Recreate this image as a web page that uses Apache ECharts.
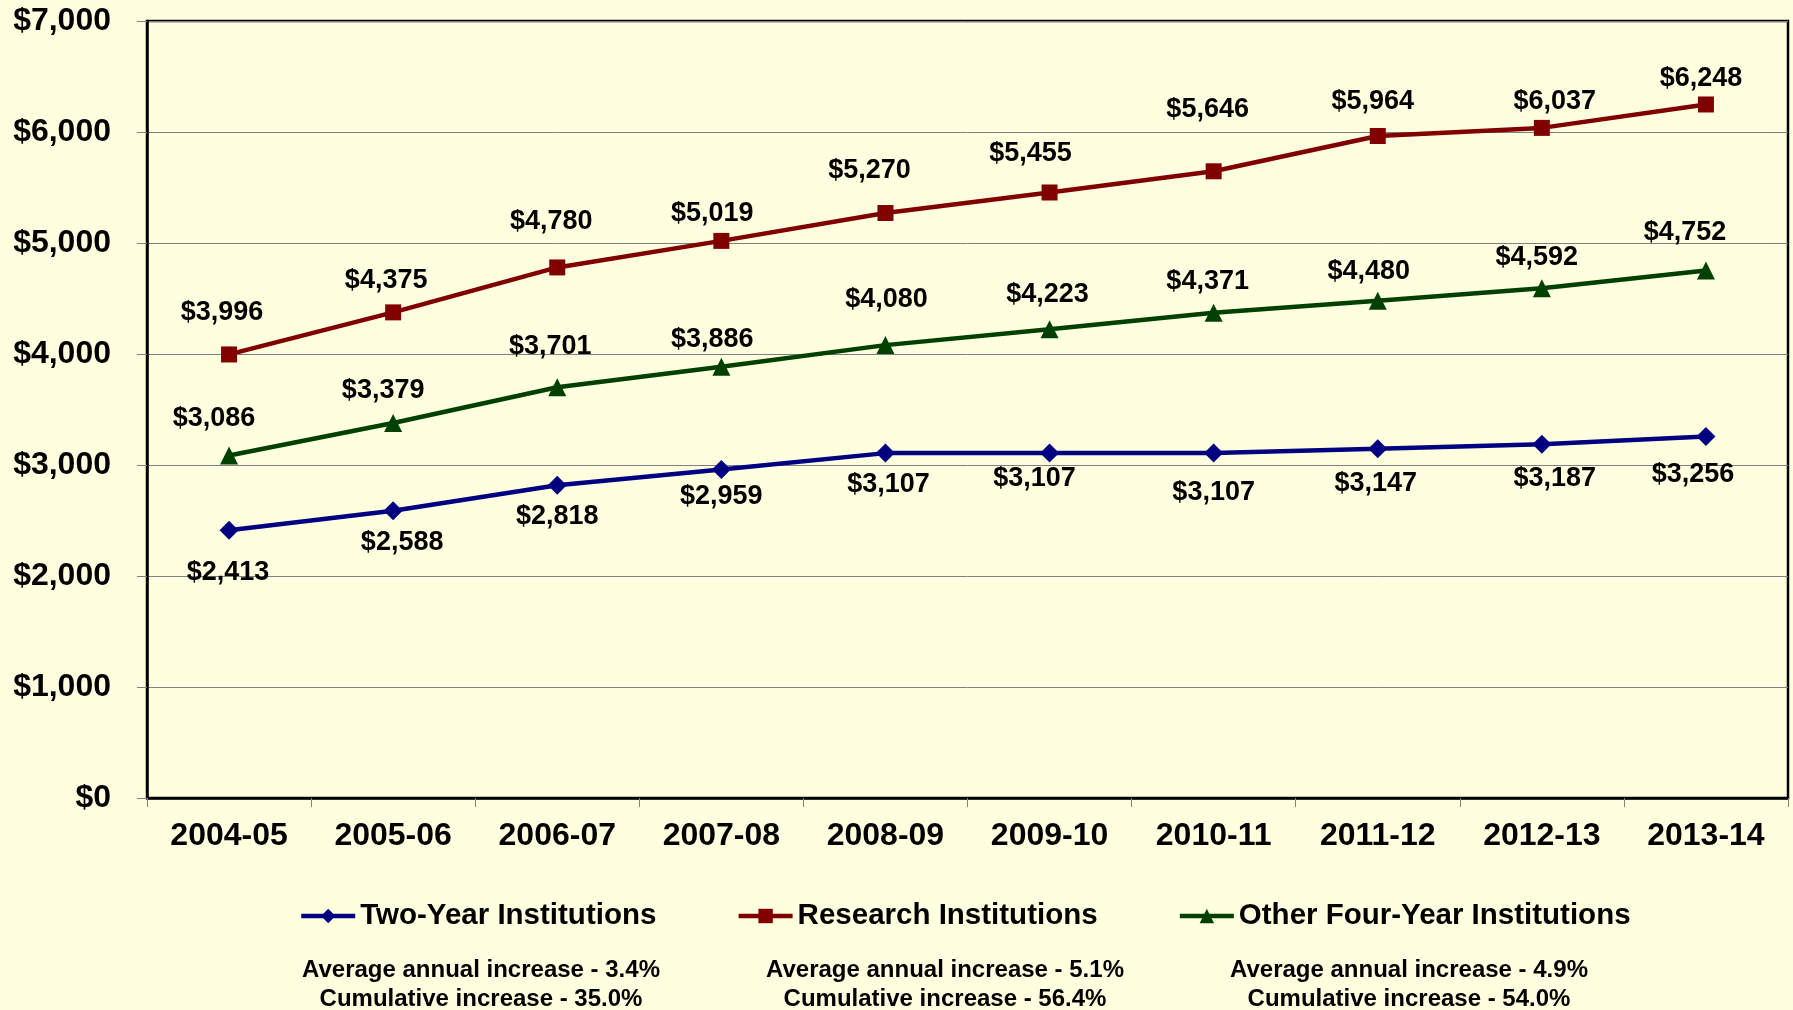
<!DOCTYPE html>
<html>
<head>
<meta charset="utf-8">
<script src="https://cdn.jsdelivr.net/npm/echarts@6/dist/echarts.min.js"></script>
<style>
  html, body { margin: 0; padding: 0; background: #ffffe0; }
  #chart { width: 1793px; height: 1010px; }
</style>
</head>
<body>
<div id="chart"></div>
<script>
// values
var years = ['2004-05', '2005-06', '2006-07', '2007-08', '2008-09', '2009-10', '2010-11', '2011-12', '2012-13', '2013-14'];
var twoYear = [2413, 2588, 2818, 2959, 3107, 3107, 3107, 3147, 3187, 3256];
var research = [3996, 4375, 4780, 5019, 5270, 5455, 5646, 5964, 6037, 6248];
var otherFour = [3086, 3379, 3701, 3886, 4080, 4223, 4371, 4480, 4592, 4752];
var seriesNames = ['Two-Year Institutions', 'Research Institutions', 'Other Four-Year Institutions'];
var avgIncrease = ['3.4%', '5.1%', '4.9%'];
var cumIncrease = ['35.0%', '56.4%', '54.0%'];

// label nudges (px, relative to the point) to mimic the hand-placed labels
var twoYearLbl = [[-1, 42], [9, 32], [0, 31], [0, 27], [3, 31], [-15, 25], [0, 39], [-2, 35], [13, 34], [-13, 38]];
var researchLbl = [[-7, -42], [-7, -32], [-6, -46], [-9, -27], [-16, -42], [-19, -39], [-6, -62], [-5, -34], [13, -26], [-5, -26]];
var otherLbl = [[-15, -37], [-10, -32], [-7, -41], [-9, -27], [1, -46], [-2, -35], [-6, -31], [-9, -29], [-5, -31], [-21, -38]];

var FONT = '"Liberation Sans", Arial, sans-serif';

function money(v) {
  return '$' + Number(v).toLocaleString('en-US');
}

function withLabels(values, offsets) {
  return values.map(function (v, i) {
    return { value: v, label: { offset: offsets[i] } };
  });
}

function makeSeries(name, values, offsets, color, symbol) {
  return {
    name: name,
    type: 'line',
    data: withLabels(values, offsets),
    symbol: symbol,
    symbolSize: symbol === 'triangle' ? 18 : (symbol === 'diamond' ? 19 : 16),
    lineStyle: { color: color, width: 4.5 },
    itemStyle: { color: color },
    label: {
      show: true,
      position: 'inside',
      formatter: function (p) { return money(p.value); },
      color: '#000',
      fontFamily: FONT,
      fontWeight: 'bold',
      fontSize: 27
    }
  };
}

var chart = echarts.init(document.getElementById('chart'));

var graphics = [];
var centers = [481, 945, 1409];
for (var i = 0; i < 3; i++) {
  graphics.push({
    type: 'text', x: centers[i], y: 970,
    style: { text: 'Average annual increase - ' + avgIncrease[i], textAlign: 'center', textVerticalAlign: 'middle',
      font: 'bold 24px ' + FONT, fill: '#000' }
  });
  graphics.push({
    type: 'text', x: centers[i], y: 999,
    style: { text: 'Cumulative increase - ' + cumIncrease[i], textAlign: 'center', textVerticalAlign: 'middle',
      font: 'bold 24px ' + FONT, fill: '#000' }
  });
}

chart.setOption({
  backgroundColor: '#ffffe0',
  animation: false,
  grid: {
    left: 147, right: 5, top: 21, bottom: 212,
    show: true,
    borderColor: '#000',
    borderWidth: 2.5,
    backgroundColor: 'transparent'
  },
  legend: {
    left: 294, top: 896,
    itemWidth: 54, itemHeight: 18, itemGap: 80,
    lineStyle: { width: 4.5 },
    textStyle: { fontFamily: FONT, fontWeight: 'bold', fontSize: 29.5, color: '#000' },
    data: seriesNames
  },
  xAxis: {
    type: 'category',
    data: years,
    boundaryGap: true,
    axisLine: { lineStyle: { color: '#000', width: 2.5 } },
    axisTick: { show: true, length: 9, lineStyle: { color: '#808080', width: 1 } },
    axisLabel: { margin: 22, color: '#000', fontFamily: FONT, fontWeight: 'bold', fontSize: 32 }
  },
  yAxis: {
    type: 'value',
    min: 0, max: 7000, interval: 1000,
    axisLine: { show: true, lineStyle: { color: '#000', width: 2.5 } },
    axisTick: { show: true, length: 10, lineStyle: { color: '#808080', width: 1 } },
    splitLine: { lineStyle: { color: '#808080', width: 1 } },
    axisLabel: {
      margin: 36, color: '#000', fontFamily: FONT, fontWeight: 'bold', fontSize: 32,
      formatter: money
    }
  },
  series: [
    makeSeries(seriesNames[0], twoYear, twoYearLbl, '#000080', 'diamond'),
    makeSeries(seriesNames[1], research, researchLbl, '#800000', 'rect'),
    makeSeries(seriesNames[2], otherFour, otherLbl, '#004000', 'triangle')
  ],
  graphic: graphics
});
</script>
</body>
</html>
